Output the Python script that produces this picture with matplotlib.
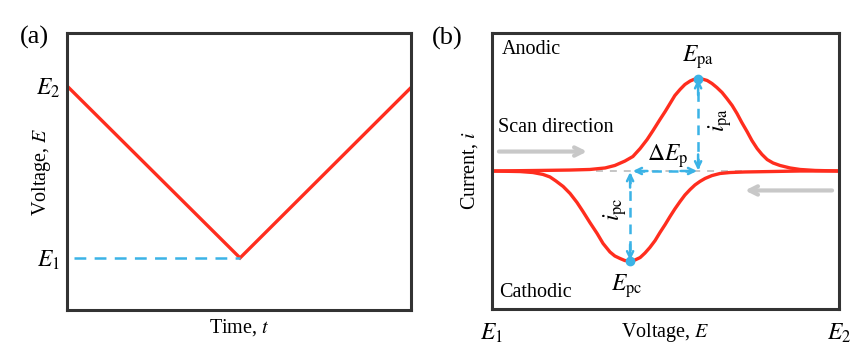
import matplotlib
matplotlib.use("Agg")
import matplotlib.pyplot as plt

plt.rcParams['font.family'] = ['Liberation Serif', 'DejaVu Serif']
plt.rcParams['mathtext.fontset'] = 'stix'
plt.rcParams['lines.scale_dashes'] = False

# (a) potential waveform: time (fraction of the sweep) vs voltage
sweep_t = [0.0, 0.503, 1.0]
sweep_E = [0.809, 0.188, 0.803]
E1_level = 0.188
E2_level = 0.809

# (b) cyclic voltammogram, voltage 0..100 (E1..E2), current in arbitrary units
fwd_E = [0, 13.8, 22.5, 28.2, 32.6, 35.4, 38.3, 40.6, 42.7, 44.7, 46.4, 48.4,
         49.9, 51.3, 52.7, 54.2, 55.6, 57.1, 58.2, 59.4, 60.5, 62.0, 63.4,
         64.8, 66.3, 67.7, 69.2, 70.6, 72.0, 73.5, 74.9, 76.4, 77.8, 79.3,
         81.0, 83.0, 85.9, 88.8, 93.1, 100]
fwd_i = [0, 0.4, 0.7, 1.1, 2.2, 4.0, 7.2, 10.5, 16.3, 22.8, 29.3, 37.3,
         43.1, 48.9, 54.7, 59.1, 62.7, 65.2, 66.4, 67.0, 66.7, 65.6, 63.4,
         60.5, 56.9, 52.5, 47.5, 41.7, 35.1, 28.6, 22.1, 16.3, 12.0, 8.3,
         5.8, 4.0, 2.2, 1.1, 0.4, 0]
rev_E = [100, 88.8, 80.1, 72.9, 68.6, 65.7, 63.4, 61.4, 59.9, 58.5, 57.1,
         55.6, 54.2, 52.7, 51.3, 49.9, 48.4, 47.0, 45.5, 44.1, 42.7, 41.2,
         39.8, 38.3, 36.9, 35.4, 34.0, 32.0, 30.3, 28.2, 26.2, 24.5, 22.5,
         20.5, 18.4, 16.7, 14.7, 11.8, 8.1, 0]
rev_i = [0, 0, -0.4, -0.7, -1.1, -1.8, -3.3, -5.4, -7.6, -10.1, -13.4,
         -17.4, -22.1, -27.5, -33.0, -38.8, -44.6, -50.4, -55.4, -59.4, -62.7,
         -64.5, -65.2, -64.9, -63.4, -61.6, -58.7, -52.5, -45.3, -37.3, -29.3,
         -22.8, -16.3, -11.2, -7.2, -4.3, -2.5, -1.1, -0.4, 0]
Epa, ipa = 59.4, 67.0
Epc, ipc = 39.8, -65.2

red = '#ff2d1e'
blue = '#3bb3e6'
grey = '#c8c8c8'
frame = '#333333'

fig = plt.figure(figsize=(8.52, 3.53), dpi=100)
ax1 = fig.add_axes([67 / 852, 43 / 353, 344 / 852, 277 / 353])
ax2 = fig.add_axes([492 / 852, 44 / 353, 347 / 852, 276 / 353])

for ax in (ax1, ax2):
    for s in ax.spines.values():
        s.set_linewidth(2.2)
        s.set_color(frame)
    ax.tick_params(length=0, labelsize=17)

# ---- panel (a)
ax1.plot(sweep_t, sweep_E, color=red, lw=2.4, solid_joinstyle='miter')
ax1.plot([0.02, sweep_t[1]], [E1_level, E1_level], color=blue, lw=1.8,
         dashes=(8.5, 6))
ax1.set_xlim(0, 1)
ax1.set_ylim(0, 1)
ax1.set_xticks([])
ax1.set_yticks([E1_level, E2_level],
               [r'$\mathit{E}_{\mathit{1}}$', r'$\mathit{E}_{\mathit{2}}$'])
ax1.tick_params(axis='y', pad=5)
ax1.set_xlabel(r'Time, $\mathit{t}$', fontsize=14.5)
ax1.set_ylabel(r'Voltage, $\mathit{E}$', fontsize=14.5)
ax1.xaxis.set_label_coords(0.5, -0.025)
ax1.yaxis.set_label_coords(-0.04, 0.5)

# ---- panel (b)
ax2.plot([30, 72], [0, 0], color='#bbbbbb', lw=1.2, dashes=(5, 5))
ax2.plot(fwd_E, fwd_i, color=red, lw=2.4, solid_joinstyle='round')
ax2.plot(rev_E, rev_i, color=red, lw=2.4, solid_joinstyle='round')

dash_kw = dict(color=blue, lw=1.8, dashes=(7, 5))
ax2.plot([Epa, Epa], [2, ipa - 3], **dash_kw)
ax2.plot([Epc + 1.5, Epa - 1.5], [0, 0], **dash_kw)
ax2.plot([Epc, Epc], [-2, ipc + 3], **dash_kw)

head = dict(arrowstyle='->,head_length=0.45,head_width=0.22', color=blue, lw=1.8,
            shrinkA=0, shrinkB=0)
def tip(x0, y0, x1, y1):
    ax2.annotate('', xy=(x1, y1), xytext=(x0, y0), arrowprops=head)

tip(Epa, ipa - 12, Epa, ipa - 0.5)
tip(Epa, 12, Epa, 0.5)
tip(Epa - 5, 0, Epa - 0.3, 0)
tip(Epc + 5, 0, Epc + 0.8, 0)
tip(Epc, -12, Epc, -0.8)
tip(Epc, ipc + 12, Epc, ipc + 0.5)

ax2.plot([Epa, Epc], [ipa, ipc], 'o', color=blue, ms=6, zorder=5)

arrow_g = dict(arrowstyle='->,head_length=0.6,head_width=0.3', color=grey, lw=3,
               shrinkA=0, shrinkB=0)
ax2.annotate('', xy=(27.4, 14.1), xytext=(2.0, 14.1), arrowprops=arrow_g)
ax2.annotate('', xy=(72.9, -14.1), xytext=(98.0, -14.1), arrowprops=arrow_g)

fs = 14.5
ax2.text(2.9, 88.0, 'Anodic', fontsize=fs, ha='left', va='center')
ax2.text(2.0, -88.0, 'Cathodic', fontsize=fs, ha='left', va='center')
ax2.text(1.7, 31.5, 'Scan direction', fontsize=fs, ha='left', va='center')
ax2.text(Epa, 82.2, r'$\mathit{E}_{\rm pa}$', fontsize=17, ha='center', va='center')
ax2.text(Epc - 1, -83.7, r'$\mathit{E}_{\rm pc}$', fontsize=17, ha='center', va='center')
ax2.text(50.7, 10.5, r'$\Delta\mathit{E}_{\rm p}$', fontsize=17, ha='center', va='center')
ax2.text(65.7, 37.3, r'$\mathit{i}_{\rm pa}$', fontsize=17, ha='center', va='center',
         rotation=90)
ax2.text(35.4, -27.9, r'$\mathit{i}_{\rm pc}$', fontsize=17, ha='center', va='center',
         rotation=90)

ax2.set_xlim(0, 100)
ax2.set_ylim(-100, 100)
ax2.set_yticks([])
ax2.set_xticks([0, 100],
               [r'$\mathit{E}_{\mathit{1}}$', r'$\mathit{E}_{\mathit{2}}$'])
ax2.tick_params(axis='x', pad=9)
ax2.set_xlabel(r'Voltage, $\mathit{E}$', fontsize=14.5)
ax2.set_ylabel(r'Current, $\mathit{i}$', fontsize=14.5)
ax2.xaxis.set_label_coords(0.5, -0.043)
ax2.yaxis.set_label_coords(-0.035, 0.5)

fig.text(34 / 852, 1 - 37 / 353, '(a)', fontsize=19, ha='center', va='center')
fig.text(447 / 852, 1 - 38 / 353, '(b)', fontsize=19, ha='center', va='center')

fig.savefig('out.png', dpi=100)
